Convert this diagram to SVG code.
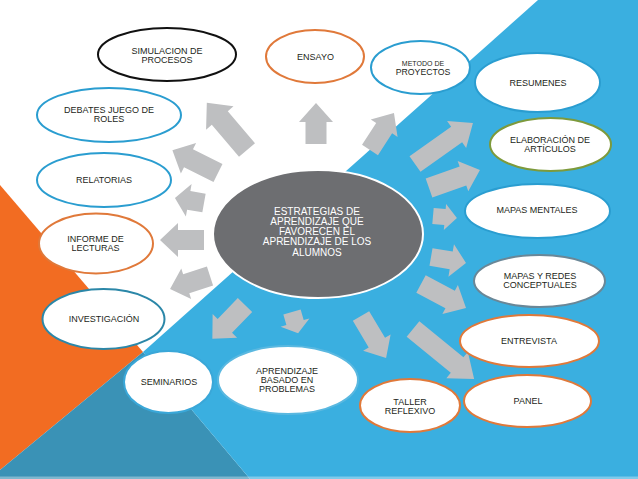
<svg xmlns="http://www.w3.org/2000/svg" width="638" height="479" viewBox="0 0 638 479">
<style>
.n{fill:#ffffff;stroke-width:2}
.t{font-family:"Liberation Sans",Arial,sans-serif;font-size:9px;fill:#231f20;text-anchor:middle}
.c{font-family:"Liberation Sans",Arial,sans-serif;font-size:10px;fill:#ffffff;text-anchor:middle}
.a{fill:#bebfc1}
.blue{stroke:#2a9dd0}
.orange{stroke:#e0793a}
</style>
<g id="background">
<rect x="0" y="0" width="638" height="479" fill="#ffffff"/>
<polygon points="0,185 143,352 0,470" fill="#f26c22"/>
<polygon points="143,352 250,479 0,479 0,470" fill="#3a92b6"/>
<polygon points="538,0 638,0 638,479 250,479 143,352" fill="#3aafe0"/>
<rect x="0" y="476.5" width="638" height="2.5" fill="#ffffff" opacity="0.35"/>
</g>
<g id="connectors">
<polygon class="a" transform="translate(247,150) rotate(-130.4)" points="0,-10.5 42,-10.5 42,-18 62,0 42,18 42,10.5 0,10.5"/>
<polygon class="a" transform="translate(316,144) rotate(-90)" points="0,-10.5 22,-10.5 22,-17 41,0 22,17 22,10.5 0,10.5"/>
<polygon class="a" transform="translate(370,150) rotate(-57)" points="0,-9.5 26,-9.5 26,-16 44,0 26,16 26,9.5 0,9.5"/>
<polygon class="a" transform="translate(415,164) rotate(-35.3)" points="0,-9.5 51,-9.5 51,-16.5 71,0 51,16.5 51,9.5 0,9.5"/>
<polygon class="a" transform="translate(429,188) rotate(-19.4)" points="0,-10 36,-10 36,-16 54,0 36,16 36,10 0,10"/>
<polygon class="a" transform="translate(433,216) rotate(5)" points="0,-8 12,-8 12,-13 24,0 12,13 12,8 0,8"/>
<polygon class="a" transform="translate(431,257) rotate(9.7)" points="0,-9 20.5,-9 20.5,-16.5 35.5,0 20.5,16.5 20.5,9 0,9"/>
<polygon class="a" transform="translate(421,284) rotate(28)" points="0,-10 33,-10 33,-16.5 51,0 33,16.5 33,10 0,10"/>
<polygon class="a" transform="translate(413,329) rotate(39.3)" points="0,-10 57,-10 57,-17 79,0 57,17 57,10 0,10"/>
<polygon class="a" transform="translate(361,316) rotate(59.2)" points="0,-9.5 31,-9.5 31,-16 49,0 31,16 31,9.5 0,9.5"/>
<polygon class="a" transform="translate(292,312) rotate(74)" points="0,-9 11,-9 11,-15 22,0 11,15 11,9 0,9"/>
<polygon class="a" transform="translate(245,305) rotate(134)" points="0,-10 29,-10 29,-17 47,0 29,17 29,10 0,10"/>
<polygon class="a" transform="translate(210,276) rotate(162)" points="0,-10 25,-10 25,-16 42,0 25,16 25,10 0,10"/>
<polygon class="a" transform="translate(204,240) rotate(180)" points="0,-10 26,-10 26,-17 44,0 26,17 26,10 0,10"/>
<polygon class="a" transform="translate(204,203) rotate(-170)" points="0,-9.5 15.5,-9.5 15.5,-16.5 29.5,0 15.5,16.5 15.5,9.5 0,9.5"/>
<polygon class="a" transform="translate(218,173) rotate(-153.4)" points="0,-10 33,-10 33,-17 51,0 33,17 33,10 0,10"/>
</g>
<g id="center">
<ellipse cx="318" cy="234" rx="105" ry="64" fill="#6d6e71" stroke="#ffffff" stroke-width="2"/>
<text class="c" x="317" y="214.5">ESTRATEGIAS DE</text>
<text class="c" x="317" y="224.8">APRENDIZAJE QUE</text>
<text class="c" x="317" y="235.1">FAVORECEN EL</text>
<text class="c" x="317" y="245.4">APRENDIZAJE DE LOS</text>
<text class="c" x="317" y="255.7">ALUMNOS</text>
</g>
<g id="simulacion">
<ellipse class="n" cx="167" cy="54.5" rx="69" ry="26.5" stroke="#111111"/>
<text class="t" x="167" y="53.5">SIMULACION DE</text>
<text class="t" x="167" y="62.5">PROCESOS</text>
</g>
<g id="debates">
<ellipse class="n blue" cx="109" cy="115" rx="72" ry="27"/>
<text class="t" x="109" y="113">DEBATES JUEGO DE</text>
<text class="t" x="109" y="122">ROLES</text>
</g>
<g id="relatorias">
<ellipse class="n blue" cx="104" cy="180" rx="67" ry="27"/>
<text class="t" x="104" y="183">RELATORIAS</text>
</g>
<g id="informe">
<ellipse class="n orange" cx="96" cy="243.5" rx="57" ry="30"/>
<text class="t" x="95.5" y="241.7">INFORME DE</text>
<text class="t" x="95.5" y="251.3">LECTURAS</text>
</g>
<g id="investigacion">
<ellipse class="n" cx="103.5" cy="319" rx="61" ry="30" stroke="#2b87a8"/>
<text class="t" x="104" y="322">INVESTIGACIÓN</text>
</g>
<g id="seminarios">
<ellipse class="n" cx="168.5" cy="382" rx="44.5" ry="31" stroke="#3aa7d8" stroke-width="1.5"/>
<text class="t" x="169" y="385">SEMINARIOS</text>
</g>
<g id="abp">
<ellipse class="n" cx="288" cy="380" rx="70" ry="34" stroke="#5ab8e0" stroke-width="1.5"/>
<text class="t" x="287" y="374">APRENDIZAJE</text>
<text class="t" x="287" y="383">BASADO EN</text>
<text class="t" x="287" y="392">PROBLEMAS</text>
</g>
<g id="taller">
<ellipse class="n orange" cx="410" cy="405.5" rx="50" ry="26.5"/>
<text class="t" x="410" y="405">TALLER</text>
<text class="t" x="410" y="414">REFLEXIVO</text>
</g>
<g id="panel">
<ellipse class="n orange" cx="527.5" cy="401" rx="63.5" ry="26"/>
<text class="t" x="528" y="404">PANEL</text>
</g>
<g id="entrevista">
<ellipse class="n orange" cx="529.5" cy="341" rx="69.5" ry="26"/>
<text class="t" x="529" y="344">ENTREVISTA</text>
</g>
<g id="mapas-redes">
<ellipse class="n" cx="539.5" cy="281" rx="65.5" ry="26" stroke="#6a8797"/>
<text class="t" x="540" y="279">MAPAS Y REDES</text>
<text class="t" x="540" y="288">CONCEPTUALES</text>
</g>
<g id="mapas-mentales">
<ellipse class="n blue" cx="537.5" cy="211" rx="72.5" ry="27"/>
<text class="t" x="537" y="213">MAPAS MENTALES</text>
</g>
<g id="elaboracion">
<ellipse class="n" cx="550.5" cy="144.5" rx="60.5" ry="26.5" stroke="#7d9a3c"/>
<text class="t" x="550" y="143">ELABORACIÓN DE</text>
<text class="t" x="550" y="152">ARTÍCULOS</text>
</g>
<g id="resumenes">
<ellipse class="n blue" cx="537.5" cy="82.5" rx="62.5" ry="29.5"/>
<text class="t" x="538" y="86">RESUMENES</text>
</g>
<g id="metodo">
<ellipse class="n blue" cx="420.5" cy="67.5" rx="49.5" ry="26.5"/>
<text class="t" x="423" y="65.5" style="font-size:7px">METODO DE</text>
<text class="t" x="423" y="75" style="font-size:8.7px">PROYECTOS</text>
</g>
<g id="ensayo">
<ellipse class="n orange" cx="315" cy="56.5" rx="49" ry="26.5"/>
<text class="t" x="315.5" y="60">ENSAYO</text>
</g>
</svg>
